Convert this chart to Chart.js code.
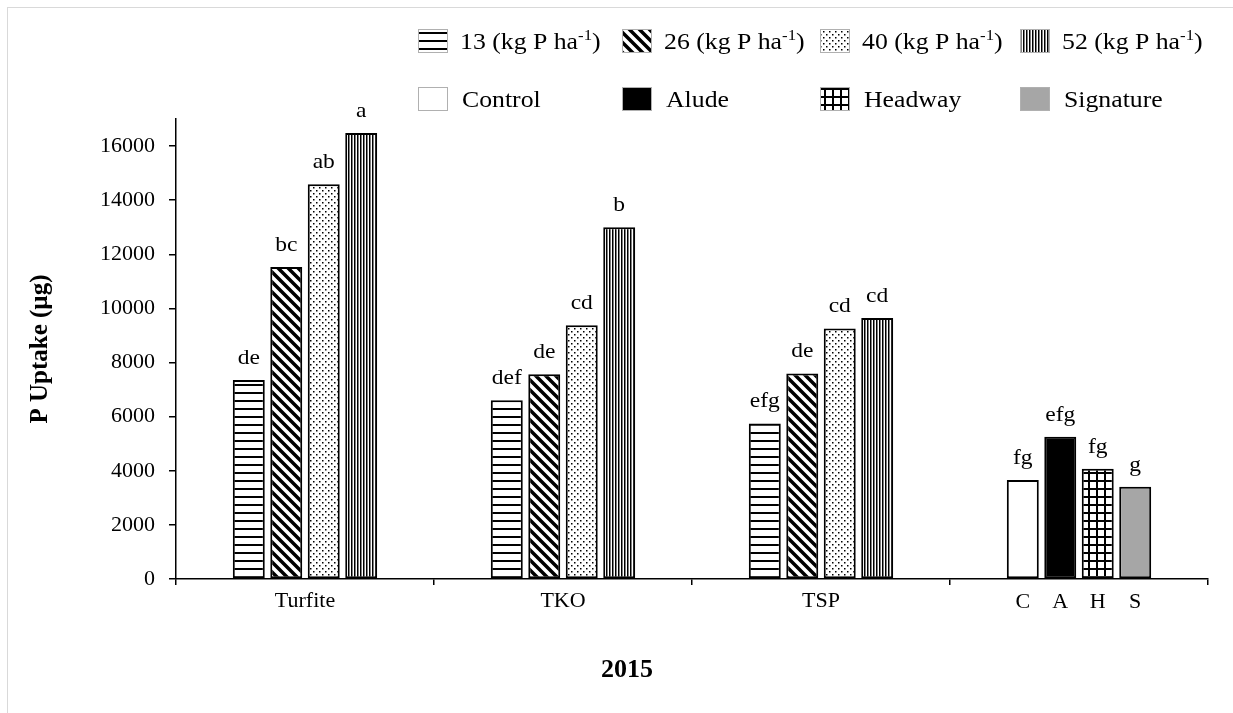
<!DOCTYPE html>
<html>
<head>
<meta charset="utf-8">
<script src="https://cdn.jsdelivr.net/npm/chart.js@4.4.1/dist/chart.umd.min.js"></script>
<style>
  html, body { margin: 0; background: #fff; }
  #wrap { width: 1233px; height: 713px; position: relative; }
</style>
</head>
<body>
<div id="wrap"><canvas id="uptakeChart"></canvas></div>
<script>
// P uptake 2015
const groups = ['Turfite', 'TKO', 'TSP'];
const productGroup = 'C A H S';
const rateLabels = ['13', '26', '40', '52'];
const productNames = ['Control', 'Alude', 'Headway', 'Signature'];
const productCodes = ['C', 'A', 'H', 'S'];
const yTicks = [0, 2000, 4000, 6000, 8000, 10000, 12000, 14000, 16000];
const yearLabel = '2015';
const yTitle = 'P Uptake (µg)';

const uptake13 = [7350, 6610, 5750];
const uptake26 = [11530, 7570, 7595];
const uptake40 = [14590, 9380, 9258];
const uptake52 = [16480, 13000, 9650];
const uptakeProducts = [3660, 5255, 4074, 3410];

const letters13 = ['de', 'def', 'efg'];
const letters26 = ['bc', 'de', 'de'];
const letters40 = ['ab', 'cd', 'cd'];
const letters52 = ['a', 'b', 'cd'];
const lettersProducts = ['fg', 'efg', 'fg', 'g'];

const FONT = '"Liberation Serif", "Times New Roman", serif';
const SX = 1.12; // texto do original é um pouco mais largo

function makePattern(w, h, draw) {
  const c = document.createElement('canvas');
  c.width = w;
  c.height = h;
  const g = c.getContext('2d');
  g.fillStyle = '#fff';
  g.fillRect(0, 0, w, h);
  g.fillStyle = '#000';
  g.strokeStyle = '#000';
  draw(g, w, h);
  return g.createPattern(c, 'repeat');
}

const hLines = makePattern(8, 8, (g) => g.fillRect(0, 0, 8, 2));
const diagLines = makePattern(10, 10, (g) => {
  g.lineWidth = 3.5;
  g.beginPath();
  for (const k of [-10, 0, 10]) {
    g.moveTo(k - 2, -2);
    g.lineTo(k + 12, 12);
  }
  g.stroke();
});
const dots = makePattern(6, 6, (g) => {
  g.fillRect(1, 1, 1.5, 1.5);
  g.fillRect(4, 4, 1.5, 1.5);
});
const vLines = makePattern(3, 3, (g) => g.fillRect(0, 0, 1.5, 3));
const grid = makePattern(8, 8, (g) => {
  g.fillRect(0, 0, 8, 2);
  g.fillRect(0, 0, 2, 8);
});

const rateFills = [hLines, diagLines, dots, vLines];
const productFills = ['#ffffff', '#000000', grid, '#a6a6a6'];
const rateSeries = [uptake13, uptake26, uptake40, uptake52];
const rateLetters = [letters13, letters26, letters40, letters52];

const datasets = rateSeries.map((vals, i) => ({
  label: rateLabels[i],
  data: [...vals, uptakeProducts[i]],
  letters: [...rateLetters[i], lettersProducts[i]],
  backgroundColor: [rateFills[i], rateFills[i], rateFills[i], productFills[i]],
  borderColor: '#000',
  borderWidth: 2,
  borderSkipped: false,
  categoryPercentage: 0.581,
  barPercentage: 0.853,
}));

function stretchText(ctx, text, x, y, align) {
  ctx.save();
  ctx.translate(x, y);
  ctx.scale(SX, 1);
  ctx.textAlign = align || 'left';
  ctx.fillText(text, 0, 0);
  ctx.restore();
  return ctx.measureText(text).width * SX;
}

const extrasPlugin = {
  id: 'extras',
  beforeDraw(chart) {
    const { ctx } = chart;
    ctx.save();
    ctx.fillStyle = '#fff';
    ctx.fillRect(0, 0, chart.width, chart.height);
    ctx.strokeStyle = '#d9d9d9';
    ctx.lineWidth = 1;
    ctx.strokeRect(7.5, 7.5, chart.width + 20, chart.height + 20);
    ctx.restore();
  },
  afterDatasetsDraw(chart) {
    const { ctx } = chart;
    ctx.save();
    ctx.fillStyle = '#000';
    ctx.textBaseline = 'alphabetic';
    ctx.font = `21px ${FONT}`;
    chart.data.datasets.forEach((ds, di) => {
      chart.getDatasetMeta(di).data.forEach((bar, i) => {
        stretchText(ctx, ds.letters[i], bar.x, bar.y - 16, 'center');
      });
    });
    // letras C A H S sob as barras do último grupo
    ctx.font = `22px ${FONT}`;
    chart.data.datasets.forEach((ds, di) => {
      const bar = chart.getDatasetMeta(di).data[3];
      ctx.textAlign = 'center';
      ctx.fillText(productCodes[di], bar.x, 608);
    });
    ctx.restore();
  },
  afterDraw(chart) {
    const { ctx } = chart;
    ctx.save();
    ctx.fillStyle = '#000';
    ctx.textBaseline = 'alphabetic';

    // ano
    ctx.font = `bold 26px ${FONT}`;
    ctx.textAlign = 'center';
    ctx.fillText(yearLabel, 627, 677);

    // legenda
    const colX = [418, 622, 820, 1020];
    const rowY = [41, 99];
    const boxW = 30;
    const boxH = 24;
    const drawBox = (x, cy, fill) => {
      ctx.fillStyle = fill;
      ctx.fillRect(x, cy - boxH / 2, boxW, boxH);
      ctx.strokeStyle = '#b0b0b0';
      ctx.lineWidth = 1;
      ctx.strokeRect(x + 0.5, cy - boxH / 2 + 0.5, boxW - 1, boxH - 1);
      ctx.fillStyle = '#000';
    };
    rateLabels.forEach((r, i) => {
      const x = colX[i];
      const cy = rowY[0];
      drawBox(x, cy, rateFills[i]);
      let tx = x + 42;
      const base = cy + 8;
      ctx.font = `23px ${FONT}`;
      tx += stretchText(ctx, `${r} (kg P ha`, tx, base);
      ctx.font = `15px ${FONT}`;
      tx += stretchText(ctx, '-1', tx, base - 9);
      ctx.font = `23px ${FONT}`;
      stretchText(ctx, ')', tx, base);
    });
    productNames.forEach((p, i) => {
      const x = colX[i];
      const cy = rowY[1];
      drawBox(x, cy, productFills[i]);
      ctx.font = `23px ${FONT}`;
      stretchText(ctx, p, x + 44, cy + 8);
    });
    ctx.restore();
  },
};

new Chart(document.getElementById('uptakeChart'), {
  type: 'bar',
  data: { labels: [...groups, productGroup], datasets },
  plugins: [extrasPlugin],
  options: {
    responsive: true,
    maintainAspectRatio: false,
    animation: false,
    layout: { padding: { left: 0, top: 119, right: 25, bottom: 0 } },
    plugins: { legend: { display: false }, tooltip: { enabled: false } },
    scales: {
      x: {
        afterFit: (scale) => { scale.height = 134; },
        grid: { drawOnChartArea: false, drawTicks: true, tickLength: 6, color: '#000', lineWidth: 1.5 },
        border: { display: true, color: '#000', width: 1.5 },
        ticks: {
          padding: 3,
          color: '#000',
          font: { family: FONT, size: 22 },
          callback: (v, i) => (i < groups.length ? groups[i] : ''),
        },
      },
      y: {
        min: 0,
        max: 17000,
        afterFit: (scale) => { scale.width = 176; },
        afterBuildTicks: (scale) => { scale.ticks = yTicks.map((v) => ({ value: v })); },
        grid: { drawOnChartArea: false, drawTicks: true, tickLength: 7, color: '#000', lineWidth: 1.5 },
        border: { display: true, color: '#000', width: 1.5 },
        ticks: {
          padding: 14,
          color: '#000',
          font: { family: FONT, size: 22 },
          callback: (v) => String(v),
        },
        title: {
          display: true,
          text: yTitle,
          color: '#000',
          font: { family: FONT, size: 25, weight: 'bold' },
          padding: { top: 26, bottom: 0 },
        },
      },
    },
  },
});
</script>
</body>
</html>
